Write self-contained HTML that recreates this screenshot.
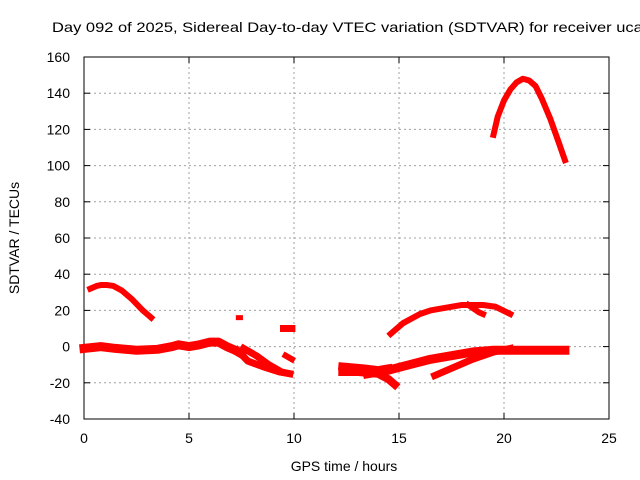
<!DOCTYPE html>
<html><head><meta charset="utf-8"><style>
html,body{margin:0;padding:0;background:#fff;overflow:hidden;}
svg{display:block;font-family:"Liberation Sans",sans-serif;}
</style></head><body>
<svg id="chart" width="640" height="480" viewBox="0 0 640 480">
<text x="52" y="32" font-size="14" textLength="600" lengthAdjust="spacingAndGlyphs" fill="#000">Day 092 of 2025, Sidereal Day-to-day VTEC variation (SDTVAR) for receiver ucag</text>
<g id="grid"></g>
<g id="axes"></g>
<g id="series"></g>
<text x="344" y="471" font-size="14" text-anchor="middle">GPS time / hours</text>
<text transform="translate(19,238) rotate(-90)" font-size="14" text-anchor="middle">SDTVAR / TECUs</text>
</svg>
<script>
const xTicks=[0,5,10,15,20,25];
const yTicks=[-40,-20,0,20,40,60,80,100,120,140,160];
const arcEarly=[[0.3,32],[0.6,33.5],[0.8,34],[1.1,34],[1.4,33.5],[1.8,31],[2.3,26],[2.8,20],[3.2,16]];
const baseEarly=[[0,-1],[0.8,0],[1.5,-1],[2.5,-2],[3.5,-1.5],[4.2,0],[4.5,1],[5,0],[5.5,1],[6,2.5],[6.4,2.5],[6.8,0],[7.2,-2],[7.5,-4]];
const dropA=[[7.3,-2],[7.8,-8],[8.5,-11],[9.3,-14],[9.8,-15]];
const dropB=[[7.6,-1],[8.2,-5],[8.8,-10],[9.4,-14],[9.8,-15]];
const dotA=[[7.35,16],[7.45,16]];
const shortA=[[9.5,10],[9.9,10]];
const shortB=[[9.6,-5],[9.9,-7]];
const midA=[[12.3,-11],[13.3,-12],[14,-13],[14.5,-12]];
const midB=[[12.3,-14],[13,-14],[14,-15],[14.5,-18],[14.8,-21]];
const lateLow=[[13.5,-15],[14.5,-13],[15.5,-10],[16.5,-7],[17.5,-5],[18.5,-3],[19.5,-2],[20.5,-2],[21.5,-2],[22.9,-2]];
const lateLow2=[[16.7,-16],[17.5,-12],[18.5,-7],[19.5,-3],[20.3,-1]];
const lateMid=[[14.6,7],[15.2,13],[16,18],[16.5,20],[17,21],[18,23],[18.5,23],[19,23],[19.6,22],[20.3,18]];
const lateMid2=[[18.3,23],[18.8,19],[19,18]];
const highArc=[[19.5,117],[19.7,127],[20,136],[20.3,142],[20.6,146],[20.9,148],[21.2,147],[21.5,144],[21.8,137],[22.2,126],[22.6,113],[22.9,103]];
const allSeries=[arcEarly,baseEarly,dropA,dropB,dotA,shortA,shortB,midA,midB,lateLow,lateLow2,lateMid,lateMid2,highArc];
const widths=[6,9,7,7,5,7,6,8,8,9,7,6,6,6];

const X0=84,X1=609,Y0=419,Y1=57;
const xs=v=>X0+(v-0)/(25-0)*(X1-X0);
const ys=v=>Y0-(v+40)/200*(Y0-Y1);
const NS="http://www.w3.org/2000/svg";
function mk(t,a,p){const e=document.createElementNS(NS,t);for(const k in a)e.setAttribute(k,a[k]);p.appendChild(e);return e;}
const grid=document.getElementById('grid'),axes=document.getElementById('axes'),ser=document.getElementById('series');
xTicks.forEach(t=>{
 const x=xs(t);
 if(t>0&&t<25){const g=mk('line',{x1:x,x2:x,y1:Y1,y2:Y0,stroke:'#a0a0a0','stroke-dasharray':'2,3'},grid);
 
 }
 mk('line',{x1:x,x2:x,y1:Y0,y2:Y0-6,stroke:'#000'},axes);
 mk('line',{x1:x,x2:x,y1:Y1,y2:Y1+6,stroke:'#000'},axes);
 const l=mk('text',{x:x,y:Y0+24,'font-size':14,'text-anchor':'middle'},axes);l.textContent=t;
 
 
});
yTicks.forEach(t=>{
 const y=ys(t);
 if(t>-40&&t<160){const g=mk('line',{x1:X0,x2:X1,y1:y,y2:y,stroke:'#a0a0a0','stroke-dasharray':'2,3'},grid);
 
 }
 mk('line',{x1:X0,x2:X0+6,y1:y,y2:y,stroke:'#000'},axes);
 mk('line',{x1:X1,x2:X1-6,y1:y,y2:y,stroke:'#000'},axes);
 const l=mk('text',{x:X0-14,y:y+5,'font-size':14,'text-anchor':'end'},axes);l.textContent=t;
 
 
});
const fr=mk('rect',{x:X0,y:Y1,width:X1-X0,height:Y0-Y1,fill:'none',stroke:'#000'},axes);


allSeries.forEach((s,i)=>{
 const p=mk('polyline',{points:s.map(d=>xs(d[0])+','+ys(d[1])).join(' '),fill:'none',stroke:'#ff0000','stroke-width':widths[i],'stroke-linejoin':'round','stroke-linecap':'square'},ser);
 
 
});
</script>
</body></html>
